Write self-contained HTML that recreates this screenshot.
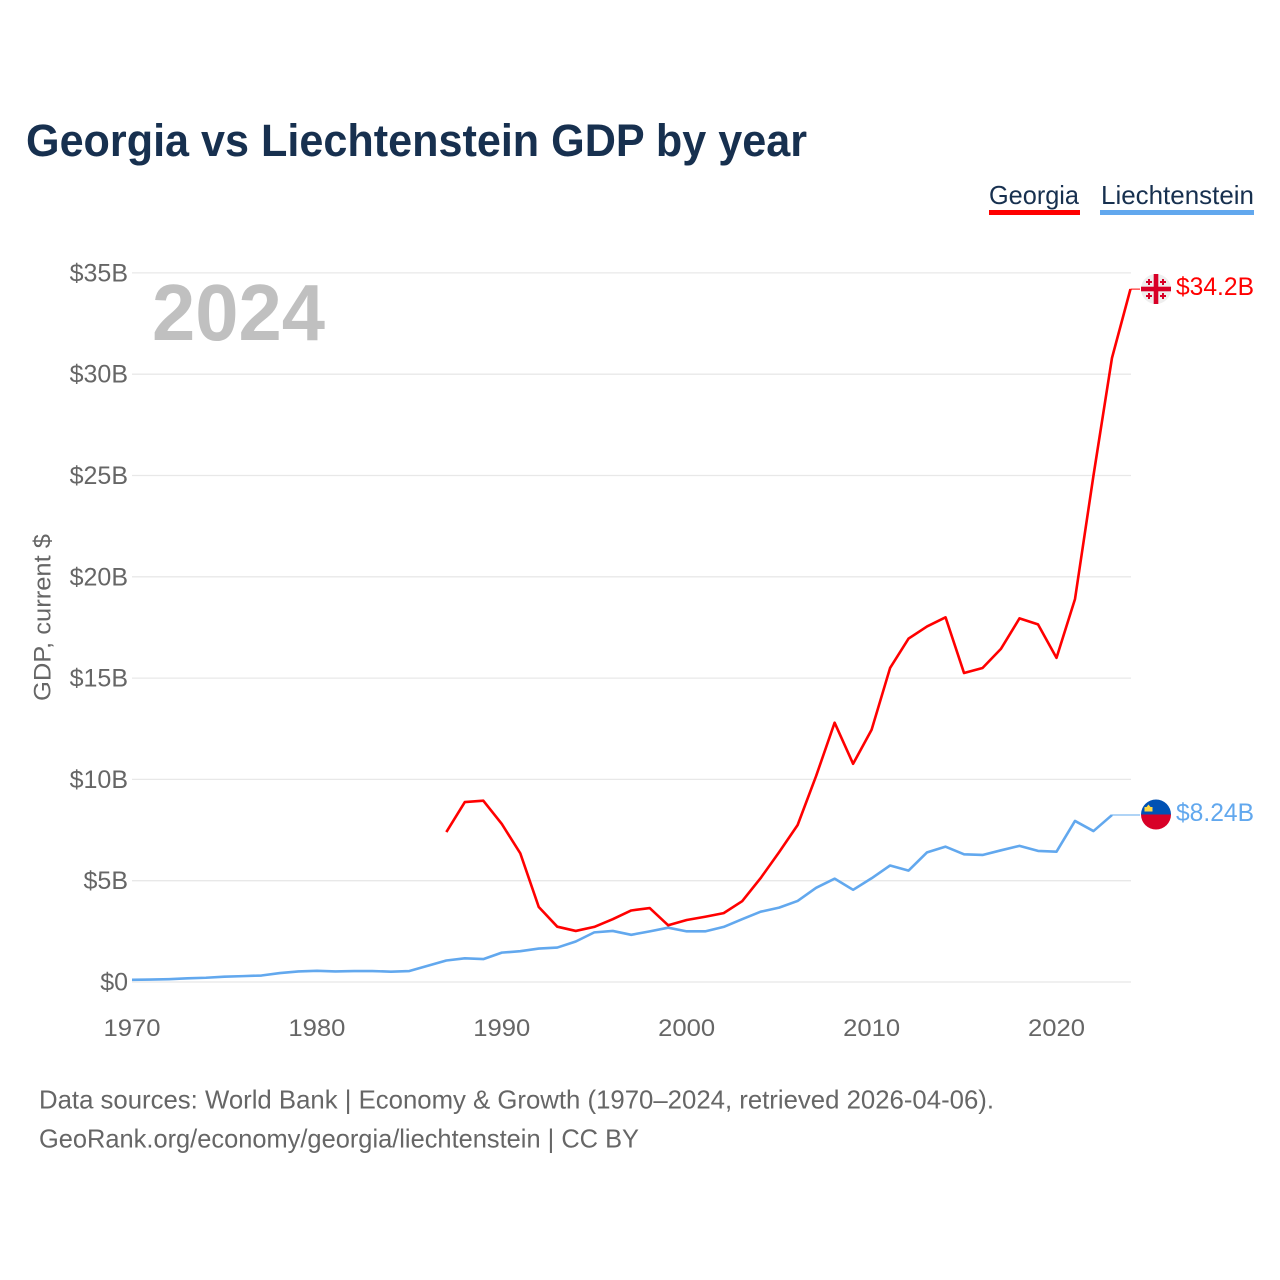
<!DOCTYPE html>
<html lang="en">
<head>
<meta charset="utf-8">
<title>Georgia vs Liechtenstein GDP by year</title>
<style>
html,body{margin:0;padding:0;background:#fff;width:1280px;height:1280px;overflow:hidden}
svg{display:block}
text{font-family:"Liberation Sans",sans-serif}
</style>
</head>
<body>
<svg id="chart" xmlns="http://www.w3.org/2000/svg" width="1280" height="1280" viewBox="0 0 1280 1280">
  <text x="26" y="156" font-size="45" font-weight="700" fill="#17304f" textLength="781" lengthAdjust="spacingAndGlyphs">Georgia vs Liechtenstein GDP by year</text>

  <g>
    <text x="989" y="204" font-size="26" fill="#17304f" textLength="90" lengthAdjust="spacingAndGlyphs">Georgia</text>
    <rect x="989" y="210" width="91" height="5" fill="#ff0000"/>
  </g>
  <g>
    <text x="1101" y="204" font-size="26" fill="#17304f" textLength="153" lengthAdjust="spacingAndGlyphs">Liechtenstein</text>
    <rect x="1100" y="210" width="154" height="5" fill="#62a8ee"/>
  </g>

  <g id="grid"></g>
  <g id="yticks"></g>
  <g id="xticks"></g>

  <text x="152" y="340" font-size="80" font-weight="700" fill="#c0c0c0" textLength="173" lengthAdjust="spacingAndGlyphs">2024</text>

  <text transform="translate(50.5 701) rotate(-90)" font-size="24" fill="#666666" textLength="167" lengthAdjust="spacingAndGlyphs">GDP, current $</text>

  <g id="series"></g>

  <g>
    <circle cx="1156" cy="289" r="15" fill="#eeeeee"/>
    <rect x="1153.700" y="274" width="4.600" height="30" fill="#d80027"/>
    <rect x="1141" y="286.700" width="30" height="4.600" fill="#d80027"/>
    <path d="M1148 279h2v2h2v2h-2v2h-2v-2h-2v-2h2zM1162 279h2v2h2v2h-2v2h-2v-2h-2v-2h2zM1148 293h2v2h2v2h-2v2h-2v-2h-2v-2h2zM1162 293h2v2h2v2h-2v2h-2v-2h-2v-2h2z" fill="#d80027"/>
  </g>
  <g>
    <path d="M1141 814.500a15 15 0 0 1 30 0z" fill="#0052b4"/>
    <path d="M1141 814.500a15 15 0 0 0 30 0z" fill="#d80027"/>
    <path d="M1144.500 811.500v-4.500h2l2-2.500 2 2.500h2v4.500z" fill="#ffda44"/>
  </g>
  <text id="end-georgia" x="1176" y="295" font-size="25" fill="#ff0000" textLength="78" lengthAdjust="spacingAndGlyphs">$34.2B</text>
  <text id="end-liechtenstein" x="1176" y="821" font-size="25" fill="#62a8ee" textLength="78" lengthAdjust="spacingAndGlyphs">$8.24B</text>

  <text x="39" y="1108.500" font-size="26" fill="#666666" textLength="955" lengthAdjust="spacingAndGlyphs">Data sources: World Bank | Economy &amp; Growth (1970–2024, retrieved 2026-04-06).</text>
  <text x="39" y="1147.500" font-size="26" fill="#666666" textLength="600" lengthAdjust="spacingAndGlyphs">GeoRank.org/economy/georgia/liechtenstein | CC BY</text>
</svg>
<script>
const years = [];
for (let yr = 1970; yr <= 2024; yr++) years.push(yr);
const georgia = [null,null,null,null,null,null,null,null,null,null,
  null,null,null,null,null,null,null,7.4,8.88,8.95,
  7.8,6.35,3.7,2.73,2.52,2.72,3.1,3.53,3.65,2.8,
  3.06,3.22,3.4,3.99,5.13,6.41,7.75,10.17,12.8,10.77,
  12.45,15.5,16.95,17.55,18.0,15.25,15.5,16.45,17.95,17.65,
  16.0,18.9,25.0,30.8,34.2];
const liechtenstein = [0.11,0.12,0.14,0.18,0.21,0.26,0.29,0.32,0.44,0.52,
  0.55,0.52,0.54,0.54,0.51,0.54,0.8,1.06,1.17,1.13,
  1.45,1.52,1.65,1.7,2.0,2.45,2.52,2.33,2.5,2.68,
  2.5,2.5,2.72,3.1,3.47,3.67,4.0,4.65,5.1,4.55,
  5.12,5.75,5.5,6.4,6.68,6.3,6.27,6.5,6.72,6.47,
  6.43,7.95,7.45,8.24,null];
const yTickValues = [0,5,10,15,20,25,30,35];
const yTickLabels = ["$0","$5B","$10B","$15B","$20B","$25B","$30B","$35B"];
const xTickValues = [1970,1980,1990,2000,2010,2020];
const xTickLabels = ["1970","1980","1990","2000","2010","2020"];

const NS = "http://www.w3.org/2000/svg";
const xScale = function (yr) { return 132 + (yr - 1970) * 18.49; };
const yScale = function (v) { return 982 - v * 20.26; };

const grid = document.getElementById("grid");
const yticks = document.getElementById("yticks");
const xticks = document.getElementById("xticks");
const seriesGroup = document.getElementById("series");

yTickValues.forEach(function (v, i) {
  const ln = document.createElementNS(NS, "line");
  
  
  ln.setAttribute("x1", 132);
  ln.setAttribute("x2", 1131);
  ln.setAttribute("y1", yScale(v));
  ln.setAttribute("y2", yScale(v));
  ln.setAttribute("stroke", "#e8e8e8");
  ln.setAttribute("stroke-width", 1.3);
  grid.appendChild(ln);

  const t = document.createElementNS(NS, "text");
  
  
  t.setAttribute("x", 128);
  t.setAttribute("y", yScale(v) + 8.5);
  t.setAttribute("text-anchor", "end");
  t.setAttribute("font-size", 25);
  t.setAttribute("fill", "#666666");
  t.textContent = yTickLabels[i];
  yticks.appendChild(t);
});

xTickValues.forEach(function (yr, i) {
  const t = document.createElementNS(NS, "text");
  
  
  t.setAttribute("x", xScale(yr));
  t.setAttribute("y", 1036);
  t.setAttribute("text-anchor", "middle");
  t.setAttribute("font-size", 24);
  t.setAttribute("fill", "#666666");
  t.setAttribute("textLength", 57);
  t.setAttribute("lengthAdjust", "spacingAndGlyphs");
  t.textContent = xTickLabels[i];
  xticks.appendChild(t);
});

function drawConnector(values, color, name, flagY) {
  let last = values.length - 1;
  while (values[last] === null) last--;
  const c = document.createElementNS(NS, "path");
  
  
  c.setAttribute("d", "M" + xScale(years[last]) + " " + yScale(values[last]) + "L1140 " + flagY);
  c.setAttribute("fill", "none");
  c.setAttribute("stroke", color);
  c.setAttribute("stroke-width", 1);
  seriesGroup.appendChild(c);
}

function linePath(values) {
  let d = "";
  values.forEach(function (v, i) {
    if (v === null) return;
    d += (d === "" ? "M" : "L") + xScale(years[i]).toFixed(2) + " " + yScale(v).toFixed(2);
  });
  return d;
}

drawConnector(liechtenstein, "#62a8ee", "connector-liechtenstein", yScale(liechtenstein[53]));
drawConnector(georgia, "#ff0000", "connector-georgia", yScale(georgia[54]));

const lineL = document.createElementNS(NS, "path");


lineL.setAttribute("d", linePath(liechtenstein));
lineL.setAttribute("fill", "none");
lineL.setAttribute("stroke", "#62a8ee");
lineL.setAttribute("stroke-width", 2.6);
lineL.setAttribute("stroke-linejoin", "round");
seriesGroup.appendChild(lineL);

const lineG = document.createElementNS(NS, "path");


lineG.setAttribute("d", linePath(georgia));
lineG.setAttribute("fill", "none");
lineG.setAttribute("stroke", "#ff0000");
lineG.setAttribute("stroke-width", 2.6);
lineG.setAttribute("stroke-linejoin", "round");
seriesGroup.appendChild(lineG);
</script>
</body>
</html>
